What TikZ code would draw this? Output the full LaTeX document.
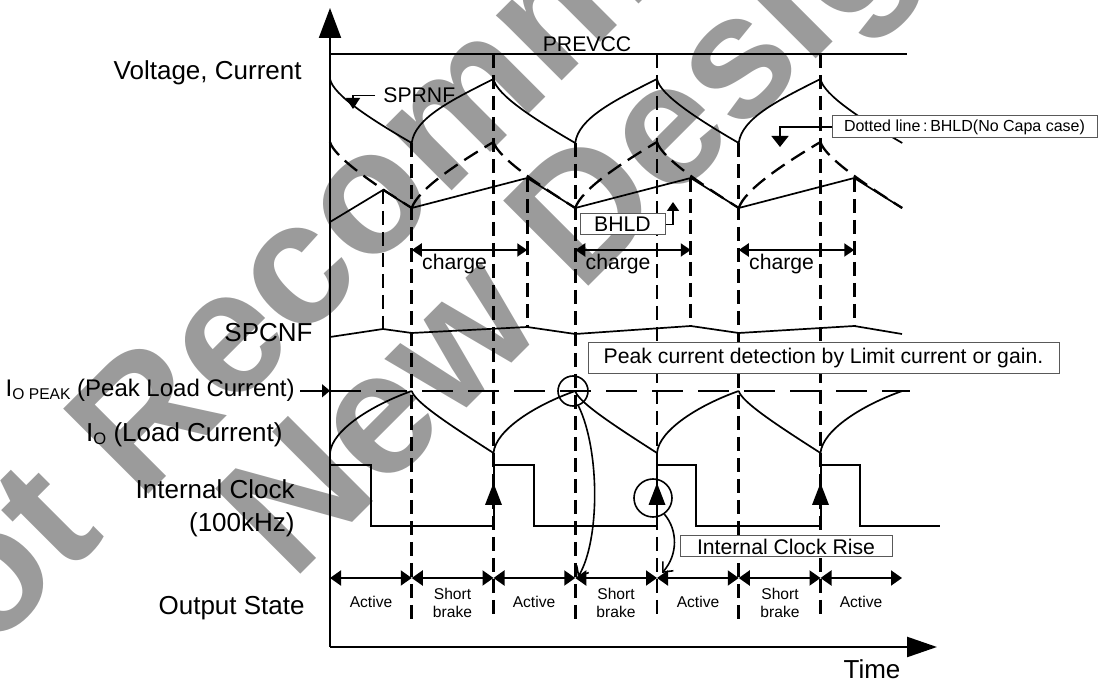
\documentclass[tikz,border=0pt]{standalone}
\usepackage{fontspec}
\setmainfont{Liberation Sans}
\usetikzlibrary{arrows.meta,calc,positioning}

\definecolor{wmgray}{RGB}{155,155,155}
\tikzset{
  wave/.style={line width=0.85pt},
  gridline/.style={line width=1.35pt, dash pattern=on 7pt off 3.5pt},
  nocapa/.style={line width=1.15pt, dash pattern=on 8pt off 4pt},
  biglbl/.style={font=\fontsize{13}{15}\selectfont, inner sep=0pt},
  midlbl/.style={font=\fontsize{10.6}{12}\selectfont, inner sep=0pt},
  smalllbl/.style={font=\fontsize{7.8}{9}\selectfont, inner sep=0pt, align=center},
  notebox/.style={draw=black!65, line width=0.5pt, fill=white, inner sep=0pt, midlbl},
  leader/.style={line width=0.8pt},
  statearrow/.style={line width=1pt, {Triangle[length=5.5pt,width=7.5pt]}-{Triangle[length=5.5pt,width=7.5pt]}},
  chargearrow/.style={line width=1pt, {Triangle[length=5pt,width=6.5pt]}-{Triangle[length=5pt,width=6.5pt]}},
  wmark/.style={font=\fontsize{87.5}{90}\selectfont\bfseries, text=wmgray, inner sep=0pt, anchor=base west, rotate=45}
}

\begin{document}
\begin{tikzpicture}[x=0.5pt,y=-0.5pt]
\useasboundingbox (0,0) rectangle (1100,684);

% Watermark
\begin{scope}
\clip (0,0) rectangle (1100,684);
\node[wmark] (wmline1) at (-100,743) {Not Recommended};
\node[wmark] (wmline2) at (292,583) {New Designs};
\end{scope}

% Axes
\draw[line width=1pt,-{Triangle[length=15pt,width=11pt]}] (330,647) -- (330,8);
\draw[line width=1.2pt,-{Triangle[length=15pt,width=10pt]}] (330,647) -- (937,647);
\node[biglbl,anchor=base east] (vlabel) at (302,80) {Voltage, Current};
\node[biglbl,anchor=base] (tlabel) at (872,679) {Time};

% PREVCC
\draw[line width=0.65pt] (330,54) -- (907,54);
\node[midlbl,anchor=base] (prevcc) at (587,52) {PREVCC};

% Dashed time marks
\foreach \x in {493.5,657,820.5}
  \draw[gridline] (\x,54) -- (\x,620);
\foreach \p in {411.75,575.25,738.75} {
  \draw[gridline] (\p,143) -- (\p,620);
  \draw[gridline] ({\p+115.5},178) -- ({\p+115.5},327);
}
\draw[gridline] (383,190) -- (383,329);

% Active half periods
\foreach \t in {330,493.5,657,820.5} {
  \draw[wave] (\t,79) .. controls ({\t+3},95) and ({\t+42},120) .. ({\t+81.75},143);
  \draw[nocapa] (\t,142) .. controls ({\t+4},157) and ({\t+45},185) .. ({\t+81.75},208);
  \draw[wave] (\t,453) .. controls ({\t+2},430) and ({\t+42},405) .. ({\t+81.75},391);
}
% Short brake half periods
\foreach \t in {411.75,575.25,738.75} {
  \draw[wave] (\t,143) .. controls ({\t+3},118) and ({\t+40},100) .. ({\t+81.75},79);
  \draw[nocapa] (\t,208) .. controls ({\t+6},190) and ({\t+43},165) .. ({\t+81.75},142);
  \draw[wave] (\t,391) .. controls ({\t+3},402) and ({\t+38},425) .. ({\t+81.75},453);
}

% BHLD with capacitor
\draw[wave] (330,222) -- (383,190) -- (411.75,208) -- (527.25,178) -- (575.25,208)
  -- (690.75,178) -- (738.75,208) -- (854.25,178) -- (902,208);

% SPCNF
\draw[wave] (330,337) -- (383,329) -- (411.75,333) -- (527.25,327) -- (575.25,334)
  -- (690.75,326) -- (738.75,333) -- (854.25,326) -- (902,334);
\node[biglbl,anchor=base east] (spcnf) at (313,342) {SPCNF};

% charge intervals
\foreach \p [count=\i] in {411.75,575.25,738.75} {
  \draw[chargearrow] (\p,250) -- ({\p+115.5},250);
  \node[midlbl,anchor=base west] (charge\i) at ({\p+10},270) {charge};
}

% Peak load current level
\draw[line width=1.35pt,dash pattern=on 15.5pt off 7.5pt] (330,391) -- (910,391);
\node[anchor=base east,inner sep=0pt,font=\fontsize{12}{14}\selectfont] (iopk) at (295,397)
  {I\raisebox{-1.3pt}{\fontsize{7.8}{9}\selectfont O PEAK} (Peak Load Current)};
\coordinate (iopkaxis) at (330,391);
\draw[leader,-{Triangle[length=4pt,width=6.5pt]}] ([xshift=2.5pt]iopk.east) -- (iopk.east -| iopkaxis);
\node[biglbl,anchor=base east] (io) at (283,442)
  {I\raisebox{-1.3pt}{\fontsize{8.3}{9}\selectfont O} (Load Current)};

% Internal clock
\draw[line width=1pt] (330,465) -- (371,465) -- (371,526) -- (493.5,526) -- (493.5,465)
  -- (533.5,465) -- (533.5,526) -- (657,526) -- (657,465) -- (696,465) -- (696,526)
  -- (820.5,526) -- (820.5,465) -- (860,465) -- (860,526) -- (940,526);
\foreach \x in {493.5,657,820.5}
  \fill (\x,483) -- ({\x-8.5},505) -- ({\x+8.5},505) -- cycle;
\node[biglbl,anchor=base east] (clklbl) at (295,499) {Internal Clock};
\node[biglbl,anchor=base east] (clkfreq) at (295,532) {(100kHz)};

% Output state
\foreach \a/\b in {330/411.75,411.75/493.5,493.5/575.25,575.25/657,657/738.75,738.75/820.5,820.5/902}
  \draw[statearrow] (\a,578) -- (\b,578);
\foreach \m in {371,534,698,861}
  \node[smalllbl,anchor=base] at (\m,608) {Active};
\foreach \m in {452.5,616,780}
  \node[smalllbl] at (\m,603) {Short\\brake};
\node[biglbl,anchor=base east] (outlbl) at (305,615) {Output State};

% Labels with leaders
\node[midlbl,anchor=base west] (sprnf) at (383,103) {SPRNF};
\coordinate (sprnfpt) at (353,109);
\draw[leader,-{Triangle[length=5.5pt,width=7pt]}] ([xshift=-4pt]sprnf.west) -| (sprnfpt);

\node[notebox,font=\fontsize{8}{9}\selectfont,minimum width=132.5pt,minimum height=11pt] (nocapabox)
  at (964.5,127) {Dotted line\,:\,BHLD(No Capa case)};
\coordinate (nocapapt) at (780,147);
\draw[leader,-{Triangle[length=5.5pt,width=8.5pt]}] (nocapabox.west) -| (nocapapt);

\node[notebox,minimum width=42.5pt,minimum height=10.5pt] (bhldbox) at (622.5,224.5) {BHLD};
\coordinate (bhldpt) at (673,202);
\draw[leader,-{Triangle[length=4.5pt,width=6pt]}] (bhldbox.east) -| (bhldpt);

\node[notebox,minimum width=235.5pt,minimum height=15.5pt] (peakbox) at (823.5,358.5)
  {Peak current detection by Limit current or gain.};
\node[notebox,minimum width=106pt,minimum height=10.5pt] (risebox) at (786,546.5)
  {Internal Clock Rise};

% Marked events
\node[circle,draw,line width=0.8pt,minimum size=15pt,inner sep=0pt] (pkring) at (573,391) {};
\node[circle,draw,line width=0.8pt,minimum size=19pt,inner sep=0pt] (clkring) at (653,498) {};
\coordinate (pkhit) at (578,577);
\coordinate (clkhit) at (662,573);
\draw[leader,-{Straight Barb[length=4pt,width=7pt]}] (pkring.-70) .. controls (600,450) and (600,540) .. (pkhit);
\draw[leader,-{Straight Barb[length=4pt,width=7pt]}] (clkring.-55) .. controls (678,530) and (678,555) .. (clkhit);
\end{tikzpicture}
\end{document}
